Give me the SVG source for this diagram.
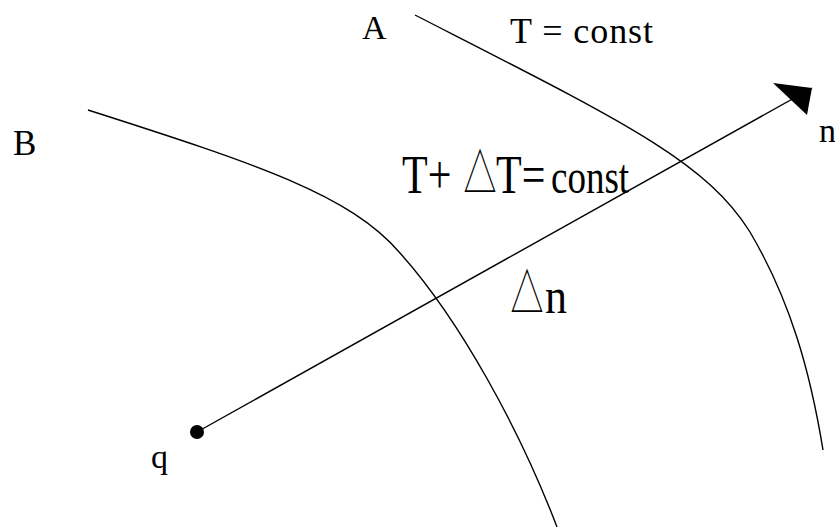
<svg xmlns="http://www.w3.org/2000/svg" width="835" height="527" viewBox="0 0 835 527">
<style>
.curve{fill:none;stroke:#000;stroke-width:1.4}
.lbl{font-family:"Liberation Serif","Times New Roman",serif;fill:#000}
.tri{font-family:"Noto Sans CJK SC",sans-serif;font-weight:300;font-size:33px;text-anchor:middle;fill:#000}
</style>
<defs>
<marker id="head" markerUnits="userSpaceOnUse" viewBox="-35 -26 40 52" refX="0" refY="0" markerWidth="40" markerHeight="52" orient="auto" overflow="visible">
<path d="M0,0 L-31.6,-23.4 L-17.6,21.2 Z" fill="#000"/>
</marker>
</defs>
<rect width="835" height="527" fill="#fff"/>
<g id="connectors">
<path id="isoA" class="curve" d="M415,15 C620,120 705,160 750,232 C790,300 810,370 823,450"/>
<path id="isoB" class="curve" d="M88,110 C260,165 350,195 400,253 C460,320 520,430 557,527"/>
<line id="normal" x1="197" y1="432" x2="812" y2="88" stroke="#000" stroke-width="1.4" marker-end="url(#head)"/>
</g>
<g id="point-q">
<circle cx="197" cy="432" r="7" fill="#000"/>
<text class="lbl" x="151" y="468" font-size="34">q</text>
</g>
<g id="label-A"><text class="lbl" x="362" y="39" font-size="34">A</text></g>
<g id="label-B"><text class="lbl" x="13" y="155" font-size="35">B</text></g>
<g id="label-n"><text class="lbl" x="819" y="142" font-size="34">n</text></g>
<g id="label-T"><text class="lbl" x="510" y="43" font-size="36" textLength="143">T = const</text></g>
<g id="label-TdT">
<g transform="translate(0,193) scale(1,1.3)">
<text class="lbl" y="0" font-size="42"><tspan x="402">T+</tspan><tspan x="496">T=</tspan><tspan x="551" font-size="37">const</tspan></text>
</g>
<text class="tri" transform="translate(480,193) scale(1,1.63)" x="0" y="0">△</text>
</g>
<g id="label-dn">
<g transform="translate(0,313) scale(1,1.15)">
<text class="lbl" x="545" y="0" font-size="44">n</text>
</g>
<text class="tri" transform="translate(527,313) scale(1,1.63)" x="0" y="0">△</text>
</g>
</svg>
